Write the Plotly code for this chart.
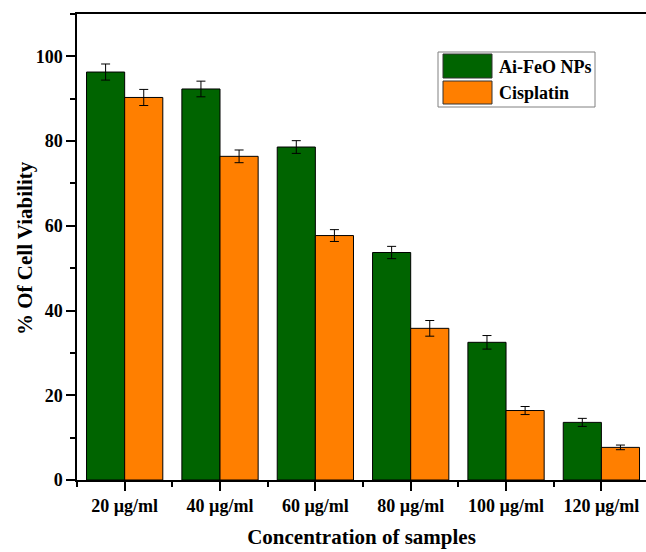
import plotly.graph_objects as go

categories = ["20 µg/ml", "40 µg/ml", "60 µg/ml", "80 µg/ml", "100 µg/ml", "120 µg/ml"]
aife_vals = [96.3, 92.3, 78.6, 53.7, 32.5, 13.6]
aife_err = [1.9, 1.85, 1.5, 1.45, 1.6, 0.95]
cis_vals = [90.3, 76.4, 57.7, 35.8, 16.4, 7.7]
cis_err = [1.9, 1.5, 1.4, 1.85, 0.95, 0.55]
series_names = ["Ai-FeO NPs", "Cisplatin"]
y_ticks = [0, 20, 40, 60, 80, 100]

GREEN = "#006400"
ORANGE = "#FF7F00"
FONT = "Liberation Serif"

xpos = list(range(len(categories)))

fig = go.Figure()
for name, vals, err, col in [(series_names[0], aife_vals, aife_err, GREEN),
                             (series_names[1], cis_vals, cis_err, ORANGE)]:
    fig.add_trace(go.Bar(
        x=xpos, y=vals, name=name,
        marker=dict(color=col, line=dict(color="black", width=1)),
        error_y=dict(type="data", array=err, visible=True, color="black",
                     thickness=1, width=4.5),
        showlegend=False,
    ))

# manual legend (paper coordinates)
W, H = 646, 552
ml, mr, mt, mb = 77, 0, 14, 72
pw, ph = W - ml - mr, H - mt - mb
def px(x):
    return (x - ml) / pw
def py(y):
    return 1 - (y - mt) / ph

shapes = [
    dict(type="rect", xref="paper", yref="paper", x0=px(438), x1=px(595), y0=py(107), y1=py(52),
         line=dict(color="#808080", width=1), fillcolor="white", layer="above"),
    dict(type="rect", xref="paper", yref="paper", x0=px(443), x1=px(492), y0=py(78), y1=py(54),
         line=dict(color="#333333", width=1), fillcolor=GREEN, layer="above"),
    dict(type="rect", xref="paper", yref="paper", x0=px(443), x1=px(492), y0=py(104), y1=py(81),
         line=dict(color="#333333", width=1), fillcolor=ORANGE, layer="above"),
]
annotations = [
    dict(xref="paper", yref="paper", x=px(497), y=py(67), text="<b>%s</b>" % series_names[0], showarrow=False,
         xanchor="left", yanchor="middle", font=dict(family=FONT, size=18, color="black")),
    dict(xref="paper", yref="paper", x=px(497), y=py(93), text="<b>%s</b>" % series_names[1], showarrow=False,
         xanchor="left", yanchor="middle", font=dict(family=FONT, size=18, color="black")),
    dict(xref="paper", yref="paper", x=px(25), y=py(248), text="<b>% Of Cell Viability</b>", showarrow=False,
         textangle=-90, xanchor="center", yanchor="middle",
         font=dict(family=FONT, size=21, color="black")),
]

fig.update_layout(
    width=W, height=H,
    margin=dict(l=ml, r=mr, t=mt, b=mb),
    paper_bgcolor="white", plot_bgcolor="white",
    barmode="group", bargap=0.2, bargroupgap=0,
    font=dict(family=FONT, color="black"),
    shapes=shapes, annotations=annotations,
    xaxis=dict(
        range=[-0.5, 5.468], tickvals=xpos, ticktext=["<b>%s</b>" % c for c in categories],
        showline=True, linecolor="black", linewidth=1.5, mirror=True,
        ticks="outside", ticklen=9, tickwidth=1.5, tickcolor="black",
        minor=dict(tick0=0.5, dtick=1, ticks="outside", ticklen=5, tickwidth=1.5, tickcolor="black"),
        tickfont=dict(family=FONT, size=18, color="black"),
        showgrid=False, zeroline=False,
        title=dict(text="<b>Concentration of samples</b>", font=dict(family=FONT, size=21, color="black"),
                   standoff=14),
    ),
    yaxis=dict(
        range=[0, 110], tickvals=y_ticks, ticktext=["<b>%d</b>" % v for v in y_ticks],
        showline=True, linecolor="black", linewidth=1.5,
        ticks="outside", ticklen=9, tickwidth=1.5, tickcolor="black",
        minor=dict(dtick=10, ticks="outside", ticklen=5, tickwidth=1.5, tickcolor="black"),
        tickfont=dict(family=FONT, size=18, color="black"),
        showgrid=False, zeroline=False,
    ),
)

fig.write_html("out.html", config={"displayModeBar": False},
               post_script="document.body.style.margin='0';document.body.style.overflow='hidden';")
